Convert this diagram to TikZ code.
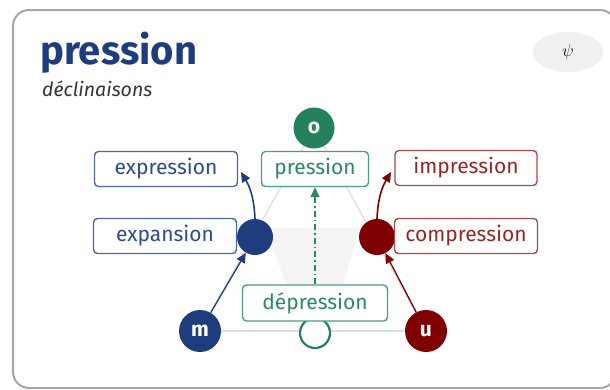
\documentclass[tikz,border=0pt]{standalone}
\usepackage{fontspec}
\setmainfont{Fira Sans}
\usetikzlibrary{arrows.meta,shapes.geometric}
\definecolor{cblue}{HTML}{1F3D7E}
\definecolor{cbluet}{HTML}{2E4B8C}
\definecolor{cblueb}{HTML}{4D68A3}
\definecolor{cred}{HTML}{7E0000}
\definecolor{credt}{HTML}{9A2525}
\definecolor{credb}{HTML}{A84848}
\definecolor{cgreen}{HTML}{23825C}
\definecolor{cgreent}{HTML}{2B8A62}
\definecolor{cgreenb}{HTML}{48A07B}
\tikzset{
  wbox/.style={draw, rounded corners=4pt, line width=1.4pt, fill=white, minimum height=35pt, inner sep=0pt, font=\fontsize{21}{24}\selectfont},
  bluebox/.style={wbox, draw=cblueb, text=cbluet},
  redbox/.style={wbox, draw=credb, text=credt},
  greenbox/.style={wbox, draw=cgreenb, text=cgreent},
  dot/.style={circle, inner sep=0pt, text=white, font=\fontsize{21}{23}\selectfont\bfseries},
  frameline/.style={draw=gray!25, line width=1.3pt},
  arr/.style={line width=1.6pt, -{Triangle[length=10pt,width=9pt]}},
}
\begin{document}
\begin{tikzpicture}[x=1pt,y=-1pt]
\useasboundingbox (0,0) rectangle (610,389);
\clip (0,0) rectangle (610,389);
% card
\draw[draw=gray!70, line width=2pt, rounded corners=16pt] (13,10) rectangle (616,388);
% title
\node[anchor=base west, inner sep=0pt, text=cblue, font=\fontsize{40}{44}\selectfont\bfseries] (title) at (40,64) {pression};
\node[anchor=base west, inner sep=0pt, text=black!80, font=\fontsize{19.5}{22}\selectfont\itshape] (sub) at (42,96) {déclinaisons};
% psi button
\node[ellipse, fill=gray!12, minimum width=70pt, minimum height=40pt, inner sep=0pt] (psi) at (568,52) {};
\node[inner sep=0pt, font=\fontsize{19}{22}\selectfont] at (psi) {$\psi$};
% background shapes
\fill[gray!9] (265,228) -- (360,228) -- (338,300) -- (292,300) -- cycle;
\coordinate (po) at (314,128);
\coordinate (pm) at (200,331);
\coordinate (pu) at (426,331);
\draw[frameline] (po) -- (pm);
\draw[frameline] (po) -- (pu);
\draw[frameline] (pm) -- (pu);
% circles
\node[dot, fill=cgreen, minimum size=41pt] (o) at (po) {o};
\node[dot, fill=cblue, minimum size=42pt] (m) at (pm) {m};
\node[dot, fill=cred, minimum size=42pt] (u) at (pu) {u};
\node[dot, fill=cblue, minimum size=36pt] (L) at (255,237) {};
\node[dot, fill=cred, minimum size=36pt] (R) at (377,237) {};
\node[dot, draw=cgreen, line width=2.2pt, fill=white, minimum size=30pt] (B) at (315,333) {};
% boxes
\node[bluebox, minimum width=143pt] (expr) at (166,169) {expression};
\node[bluebox, minimum width=143pt] (expa) at (165,236) {expansion};
\node[greenbox, minimum width=107pt] (pres) at (315,169) {pression};
\node[redbox, minimum width=142pt] (impr) at (466,168) {impression};
\node[redbox, minimum width=143pt] (comp) at (466,236) {compression};
\node[greenbox, minimum width=145pt, minimum height=36pt] (depr) at (315,303) {dépression};
% arrows
\coordinate (ta) at (241,172);
\coordinate (tb) at (391,172);
\draw[arr, cblue] (L.north) to[bend right=14] (ta);
\draw[arr, cred] (R.north) to[bend left=14] (tb);
\draw[arr, cblue, line width=1.3pt] (m) -- (L);
\draw[arr, cred, line width=1.3pt] (u) -- (R);
\draw[arr, cgreent, dash pattern=on 6pt off 3pt on 1.5pt off 3pt] (depr.north) -- (pres.south);
\end{tikzpicture}
\end{document}
